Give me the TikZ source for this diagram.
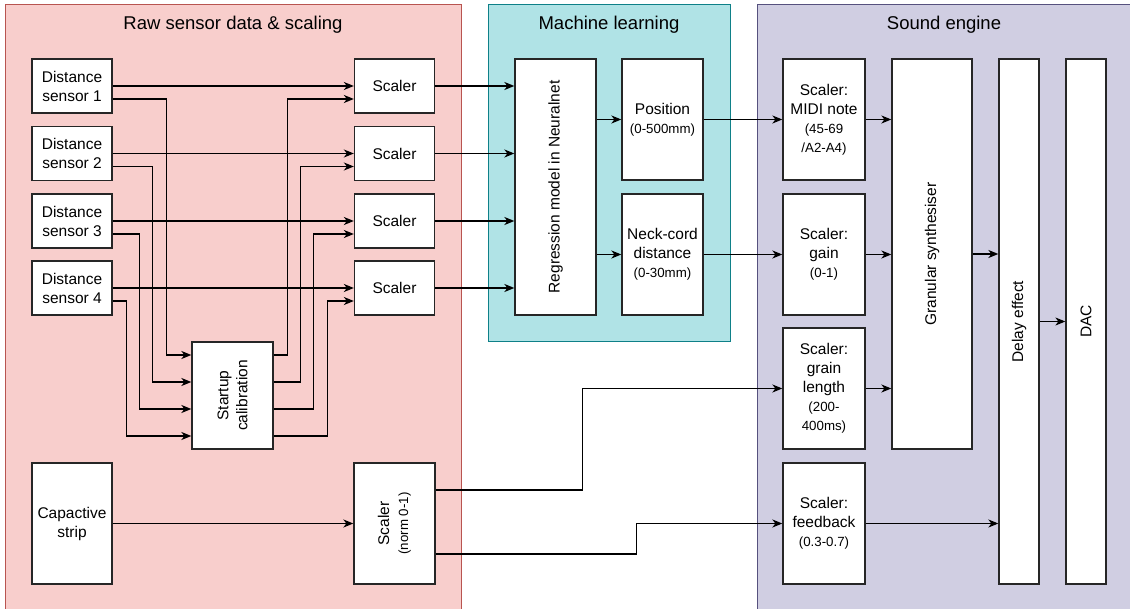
\documentclass[tikz,border=0pt]{standalone}
\usepackage{fontspec}
\setmainfont{Liberation Sans}
\usetikzlibrary{arrows.meta}
\definecolor{rawfill}{HTML}{F8CECC}
\definecolor{rawline}{HTML}{B85450}
\definecolor{mlfill}{HTML}{B0E3E6}
\definecolor{mlline}{HTML}{0E8088}
\definecolor{sndfill}{HTML}{D0CEE2}
\definecolor{sndline}{HTML}{56517E}
\newcommand{\smalltext}{\fontsize{13.3}{19}\selectfont}

\begin{document}
\begin{tikzpicture}[
    x=1pt, y=-1pt,
    every node/.style={align=center, font=\fontsize{15.5}{19}\selectfont},
    block/.style={draw=black!85, fill=white, line width=1.3pt, inner sep=1pt},
    sensor/.style={block, minimum width=80pt, minimum height=54pt},
    tallbox/.style={block, minimum width=81pt, minimum height=121pt},
    panel title/.style={font=\fontsize{18.5}{22}\selectfont},
    flow arrow/.style={draw, line width=1.3pt, -{Stealth[length=10pt, width=8pt, inset=3pt]}},
    ]
\useasboundingbox (0,0) rectangle (1130,609);
\filldraw[fill=rawfill, draw=rawline, line width=1pt] (5,5) rectangle (461,620);
\filldraw[fill=mlfill, draw=mlline, line width=1pt] (488,5) rectangle (730,342);
\filldraw[fill=sndfill, draw=sndline, line width=1pt] (757,5) rectangle (1140,620);
\node[panel title] (rawtitle) at (233,25) {Raw sensor data \& scaling};
\node[panel title] (mltitle) at (609,25) {Machine learning};
\node[panel title] (sndtitle) at (944,25) {Sound engine};
\node[sensor] (ds1) at (72,86) {Distance\\sensor 1};
\node[sensor] (ds2) at (72,153.5) {Distance\\sensor 2};
\node[sensor] (ds3) at (72,221) {Distance\\sensor 3};
\node[sensor] (ds4) at (72,288) {Distance\\sensor 4};
\node[sensor] (sc1) at (394.5,86) {Scaler};
\node[sensor] (sc2) at (394.5,153.5) {Scaler};
\node[sensor] (sc3) at (394.5,221) {Scaler};
\node[sensor] (sc4) at (394.5,288) {Scaler};
\node[block, minimum width=81pt, minimum height=107pt,
    label={[rotate=90]center:{Startup\\calibration}}] (calib) at (232.5,395.5) {};
\node[tallbox, minimum width=80pt] (cap) at (72,523.5) {Capactive\\strip};
\node[tallbox, label={[rotate=90]center:{Scaler\\\smalltext (norm 0-1)}}] (scnorm) at (394.5,523.5) {};
\node[block, minimum width=81pt, minimum height=256pt,
    label={[rotate=90]center:Regression model in Neuralnet}] (regr) at (555.5,187) {};
\node[tallbox] (pos) at (662.5,119.5) {Position\\\smalltext (0-500mm)};
\node[tallbox] (neck) at (662.5,254.5) {Neck-cord\\distance\\\smalltext (0-30mm)};
\node[tallbox, minimum width=82pt] (midi) at (824,119.5) {Scaler:\\MIDI note\\\smalltext (45-69\\\smalltext /A2-A4)};
\node[tallbox, minimum width=82pt] (gain) at (824,254.5) {Scaler:\\gain\\\smalltext (0-1)};
\node[tallbox, minimum width=82pt] (grain) at (824,388.5) {Scaler:\\grain\\length\\\smalltext (200-\\\smalltext 400ms)};
\node[tallbox, minimum width=82pt] (fb) at (824,523.5) {Scaler:\\feedback\\\smalltext (0.3-0.7)};
\node[block, minimum width=80pt, minimum height=390pt,
    label={[rotate=90]center:Granular synthesiser}] (gran) at (932,254) {};
\node[block, minimum width=40pt, minimum height=525pt,
    label={[rotate=90]center:Delay effect}] (delay) at (1019,321.5) {};
\node[block, minimum width=40pt, minimum height=525pt,
    label={[rotate=90]center:DAC}] (dac) at (1086,321.5) {};
\draw[flow arrow] (ds1) -- (sc1);
\draw[flow arrow] (ds2) -- (sc2);
\draw[flow arrow] (ds3) -- (sc3);
\draw[flow arrow] (ds4) -- (sc4);
\draw[flow arrow] ([yshift=-13pt]ds1.east) -- ++(54,0) |- ([yshift=40.5pt]calib.west);
\draw[flow arrow] ([yshift=-13pt]ds2.east) -- ++(40,0) |- ([yshift=13.5pt]calib.west);
\draw[flow arrow] ([yshift=-13pt]ds3.east) -- ++(27,0) |- ([yshift=-13.5pt]calib.west);
\draw[flow arrow] ([yshift=-13pt]ds4.east) -- ++(14,0) |- ([yshift=-40.5pt]calib.west);
\draw[flow arrow] ([yshift=40.5pt]calib.east) -- ++(14,0) |- ([yshift=-13pt]sc1.west);
\draw[flow arrow] ([yshift=13.5pt]calib.east) -- ++(27,0) |- ([yshift=-13pt]sc2.west);
\draw[flow arrow] ([yshift=-13.5pt]calib.east) -- ++(40,0) |- ([yshift=-13pt]sc3.west);
\draw[flow arrow] ([yshift=-40.5pt]calib.east) -- ++(54,0) |- ([yshift=-13pt]sc4.west);
\draw[flow arrow] (sc1.east) -- (sc1.east -| regr.west);
\draw[flow arrow] (sc2.east) -- (sc2.east -| regr.west);
\draw[flow arrow] (sc3.east) -- (sc3.east -| regr.west);
\draw[flow arrow] (sc4.east) -- (sc4.east -| regr.west);
\draw[flow arrow] (regr.east |- pos.west) -- (pos.west);
\draw[flow arrow] (regr.east |- neck.west) -- (neck.west);
\draw[flow arrow] (pos) -- (midi);
\draw[flow arrow] (neck) -- (gain);
\draw[flow arrow] (midi.east) -- (midi.east -| gran.west);
\draw[flow arrow] (gain.east) -- (gain.east -| gran.west);
\draw[flow arrow] (grain.east) -- (grain.east -| gran.west);
\draw[flow arrow] (gran.east) -- (gran.east -| delay.west);
\draw[flow arrow] (delay) -- (dac);
\draw[flow arrow] (fb.east) -- (fb.east -| delay.west);
\draw[flow arrow] (cap) -- (scnorm);
\draw[flow arrow] ([yshift=33.5pt]scnorm.east) -- ++(147,0) |- (grain.west);
\draw[flow arrow] ([yshift=-30.5pt]scnorm.east) -- ++(201,0) |- (fb.west);
\end{tikzpicture}
\end{document}
